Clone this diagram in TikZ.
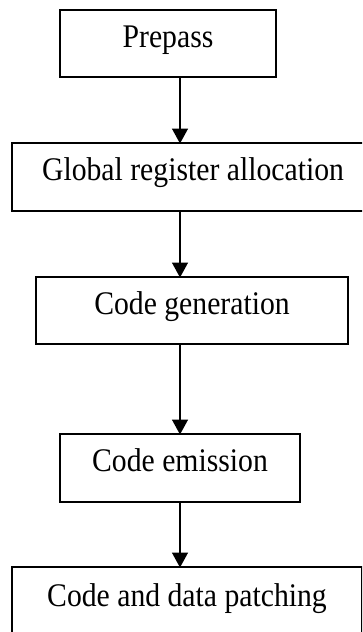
\documentclass[tikz,border=0pt]{standalone}
\usepackage{fontspec}
\setmainfont{Liberation Serif}[FakeStretch=0.9]
\usetikzlibrary{arrows.meta}
\begin{document}
\begin{tikzpicture}[x=1pt,y=-1pt,
  stagebox/.style={draw=black, line width=1.8pt, inner sep=0pt, outer sep=0pt,
    font=\fontsize{33}{38}\selectfont, text height=0.8em, text depth=0.1em},
  flowarrow/.style={line width=1.5pt, -{Triangle[width=16pt,length=15pt]}, shorten >=-0.5pt}]
\useasboundingbox (0,0) rectangle (362,632);
\clip (0,0) rectangle (362,632);
\coordinate (ax) at (180,0);
\node[stagebox, minimum width=216pt, minimum height=67pt] (p) at (168,43.5) {Prepass};
\node[stagebox, minimum width=362pt, minimum height=68pt] (g) at (193,177) {Global register allocation};
\node[stagebox, minimum width=312pt, minimum height=67pt] (c) at (192,310.5) {Code generation};
\node[stagebox, minimum width=240pt, minimum height=68pt] (e) at (180,468) {Code emission};
\node[stagebox, minimum width=350pt, minimum height=80pt, text depth=0.98em] (d) at (187,607) {Code and data patching};
\draw[flowarrow] (p.south -| ax) -- (g.north -| ax);
\draw[flowarrow] (g.south -| ax) -- (c.north -| ax);
\draw[flowarrow] (c.south -| ax) -- (e.north -| ax);
\draw[flowarrow] (e.south -| ax) -- (d.north -| ax);
\end{tikzpicture}
\end{document}
